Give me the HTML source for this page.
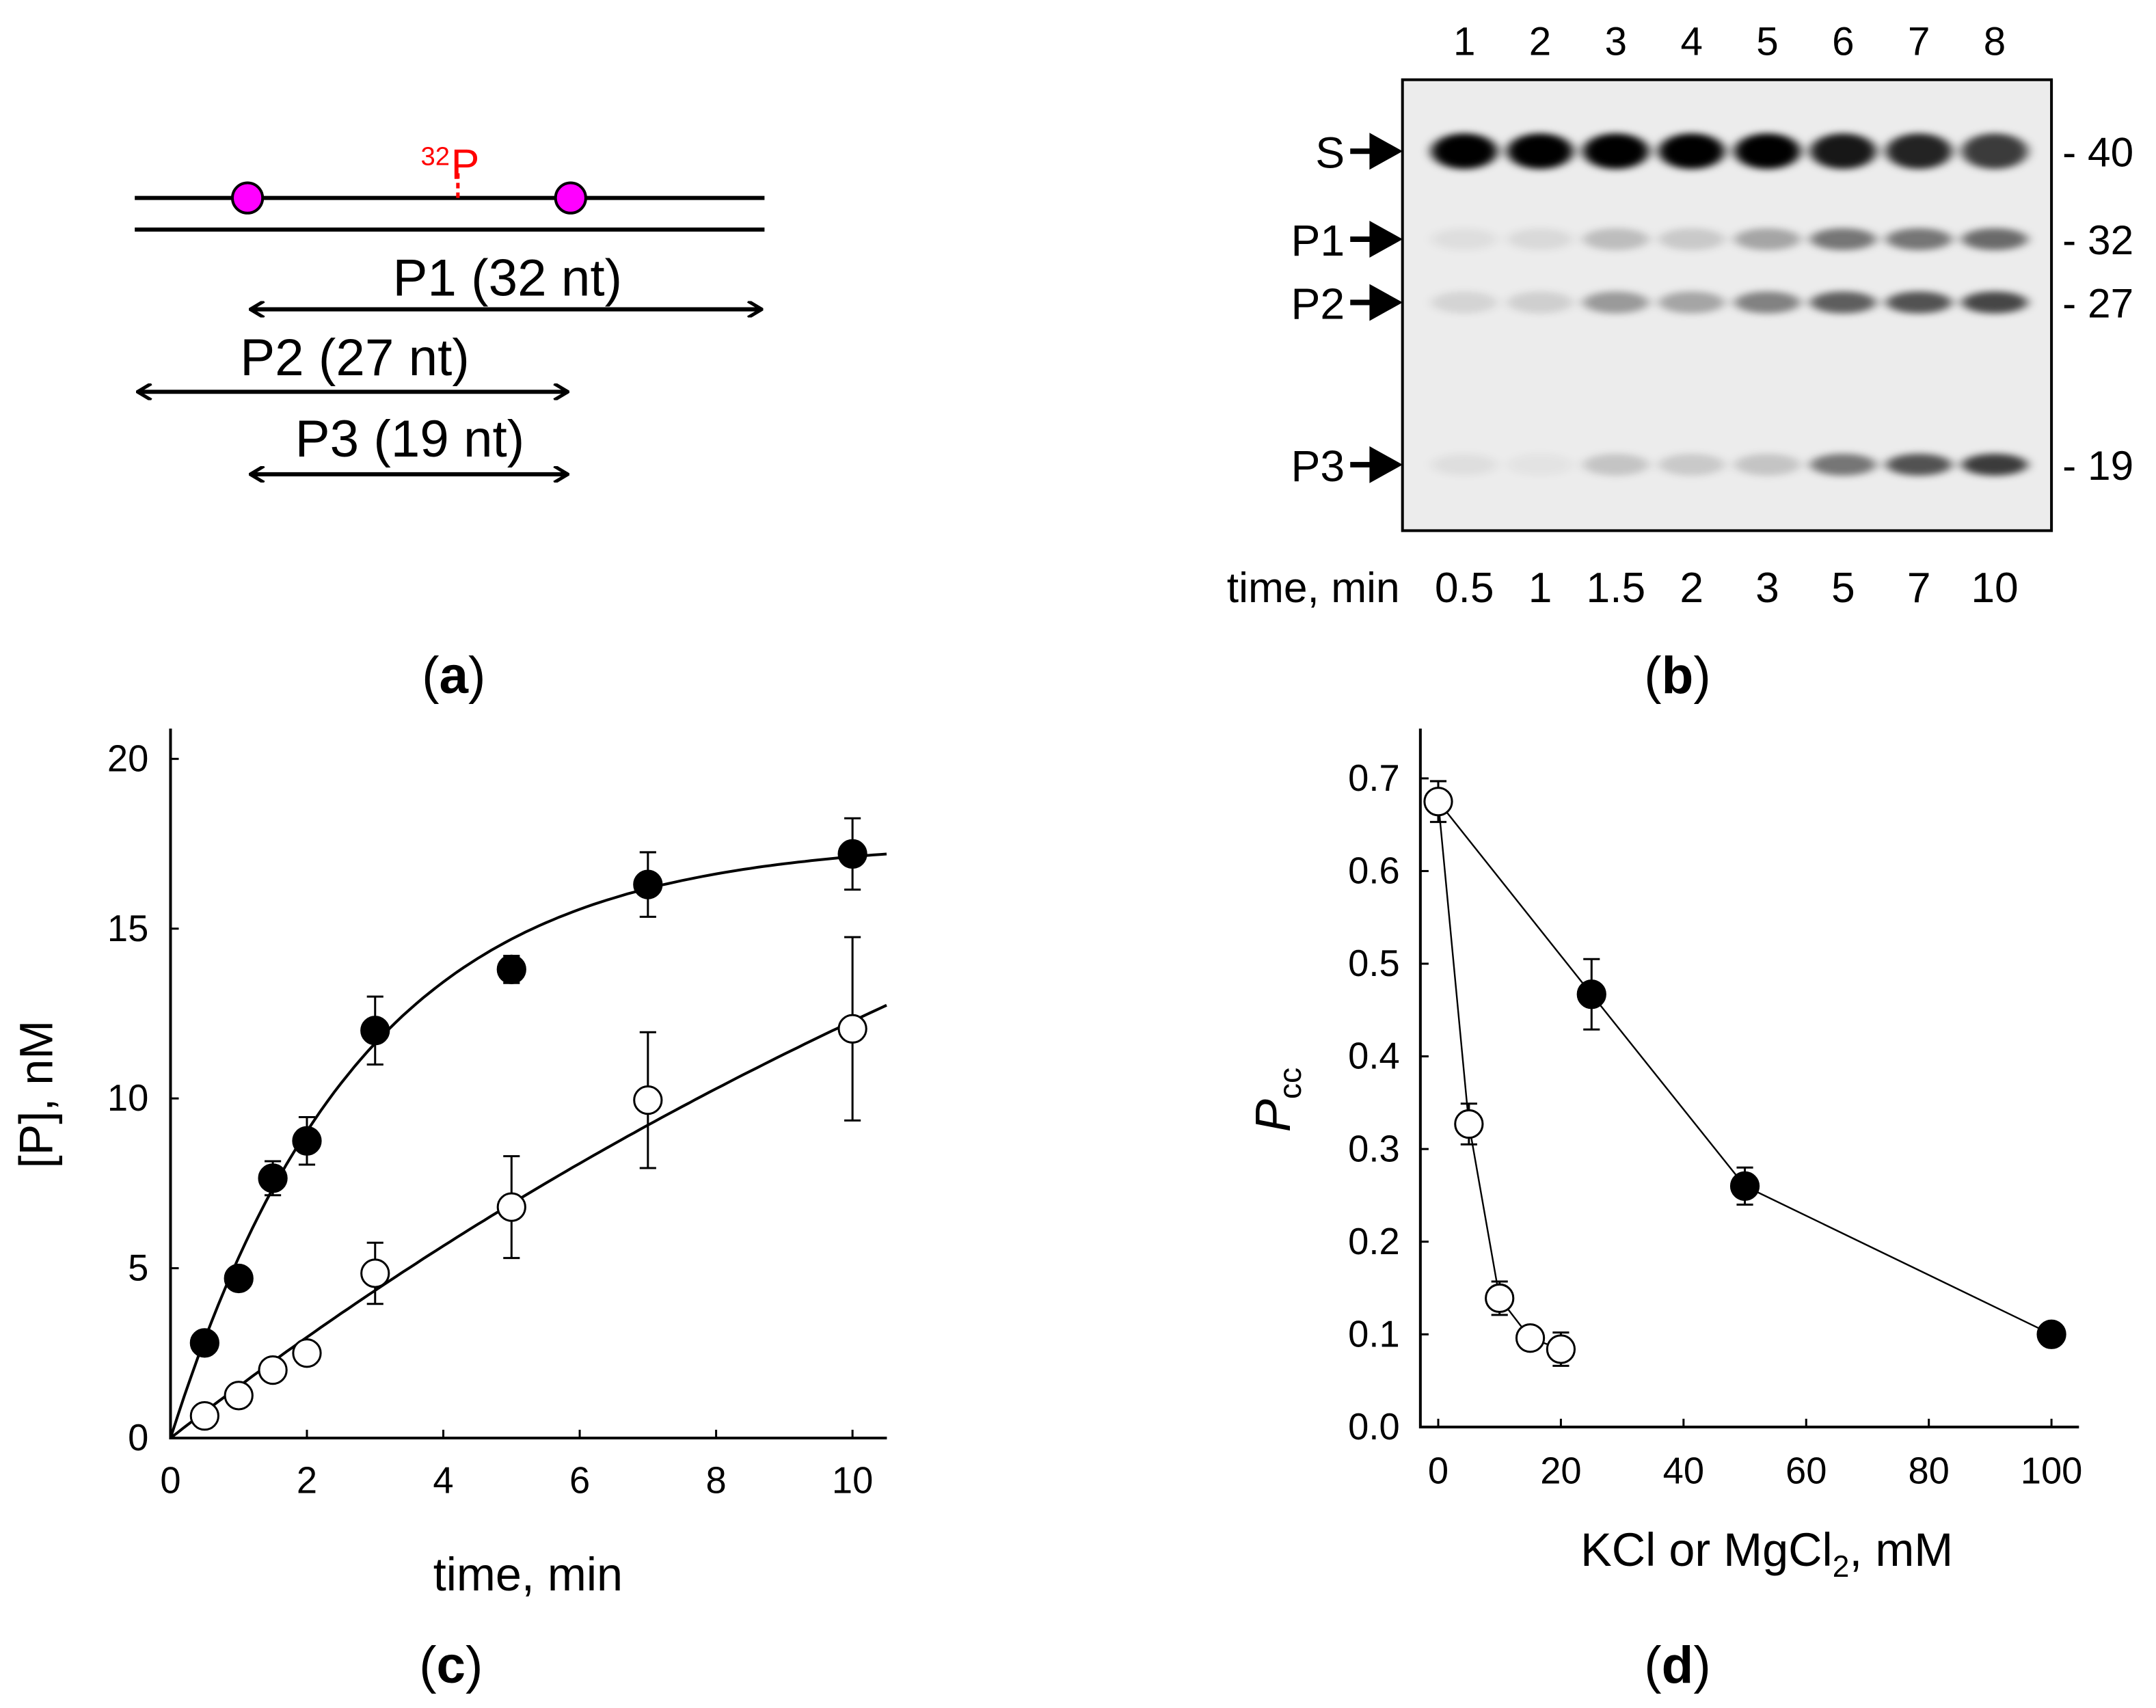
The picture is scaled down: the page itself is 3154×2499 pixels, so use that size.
<!DOCTYPE html>
<html><head><meta charset="utf-8"><style>html,body{margin:0;padding:0;background:#fff}svg{display:block}text{font-family:"Liberation Sans",Arial,sans-serif}</style></head>
<body>
<svg id="fig" xmlns="http://www.w3.org/2000/svg" width="3154" height="2499" viewBox="0 0 1568 1242.4">
<defs>
<filter id="blur" x="-50%" y="-200%" width="200%" height="500%"><feGaussianBlur stdDeviation="4 2.5"/></filter>
<marker id="ah" markerWidth="12" markerHeight="12" refX="11" refY="6" orient="auto-start-reverse" markerUnits="userSpaceOnUse"><path d="M1,0 L11,6 L1,12" fill="none" stroke="#000" stroke-width="2.5"/></marker>
</defs>
<g id="panel-a">
<line x1="98" y1="144" x2="556" y2="144" stroke="#000" stroke-width="3"/>
<line x1="98" y1="167" x2="556" y2="167" stroke="#000" stroke-width="3"/>
<line x1="333" y1="144" x2="333" y2="126" stroke="#f00" stroke-width="2.5" stroke-dasharray="4 3"/>
<text x="306" y="120" fill="#f00" font-size="19">32</text>
<text x="328" y="130" fill="#f00" font-size="31">P</text>
<circle cx="180" cy="144" r="11" fill="#f0f" stroke="#000" stroke-width="2"/>
<circle cx="415" cy="144" r="11" fill="#f0f" stroke="#000" stroke-width="2"/>
<line x1="182" y1="225" x2="554" y2="225" stroke="#000" stroke-width="3" marker-start="url(#ah)" marker-end="url(#ah)"/>
<text x="369" y="215" font-size="38" text-anchor="middle">P1 (32 nt)</text>
<line x1="100" y1="285" x2="413" y2="285" stroke="#000" stroke-width="3" marker-start="url(#ah)" marker-end="url(#ah)"/>
<text x="258" y="273" font-size="38" text-anchor="middle">P2 (27 nt)</text>
<line x1="182" y1="345" x2="413" y2="345" stroke="#000" stroke-width="3" marker-start="url(#ah)" marker-end="url(#ah)"/>
<text x="298" y="332" font-size="38" text-anchor="middle">P3 (19 nt)</text>
</g>
<g id="panel-b">
<rect x="1020" y="58" width="472" height="328" fill="#ececec" stroke="#000" stroke-width="2"/>
<g id="bands" filter="url(#blur)"></g>
<g id="gel-labels"></g>
</g>
<g id="panel-c"></g>
<g id="panel-d"></g>
<g font-family="Liberation Serif,serif" font-size="38" text-anchor="middle">
<text x="330" y="504">(<tspan font-weight="bold">a</tspan>)</text>
<text x="1220" y="504">(<tspan font-weight="bold">b</tspan>)</text>
<text x="328" y="1224">(<tspan font-weight="bold">c</tspan>)</text>
<text x="1220" y="1224">(<tspan font-weight="bold">d</tspan>)</text>
</g>
</svg>
<script>
const NS="http://www.w3.org/2000/svg";
function mk(parent,tag,attrs,txt){const e=document.createElementNS(NS,tag);for(const k in attrs)e.setAttribute(k,attrs[k]);if(txt!==undefined)e.textContent=txt;parent.appendChild(e);return e;}

// ---- Gel data ----
const laneNums=["1","2","3","4","5","6","7","8"];
const laneTimes=["0.5","1","1.5","2","3","5","7","10"];
const bandS=[1.0,1.0,1.0,1.0,1.0,0.9,0.85,0.75];
const bandP1=[0.06,0.08,0.2,0.15,0.3,0.5,0.5,0.55];
const bandP2=[0.1,0.12,0.35,0.3,0.45,0.6,0.65,0.7];
const bandP3=[0.06,0.04,0.17,0.15,0.17,0.5,0.65,0.75];
const bandNames=["S","P1","P2","P3"];
const bandSizes=["40","32","27","19"];
const bandY=[110,174,220,338];
const bands=document.getElementById('bands'), gl=document.getElementById('gel-labels');
const laneX=i=>1065+i*55.1;
[bandS,bandP1,bandP2,bandP3].forEach((arr,b)=>{arr.forEach((v,i)=>{
  const e=mk(bands,'ellipse',{cx:laneX(i),cy:bandY[b],rx:24,ry:b==0?13:8,fill:'#000','fill-opacity':v});
  
  
});});
laneNums.forEach((n,i)=>{
  const t=mk(gl,'text',{x:laneX(i),y:40,'font-size':29,'text-anchor':'middle'},n);
  
  
  const u=mk(gl,'text',{x:laneX(i),y:438,'font-size':31,'text-anchor':'middle'},laneTimes[i]);
  
  
});
{const t=mk(gl,'text',{x:1018,y:438,'font-size':31,'text-anchor':'end'},'time, min');

}
bandNames.forEach((n,b)=>{
  const t=mk(gl,'text',{x:978,y:bandY[b]+12,'font-size':32,'text-anchor':'end'},n);
  
  
  const a=mk(gl,'path',{d:`M982,${bandY[b]} L1000,${bandY[b]} M998,${bandY[b]-10} L1016,${bandY[b]} L998,${bandY[b]+10} Z`,stroke:'#000','stroke-width':4,fill:'#000'});
  
  
  const s=mk(gl,'text',{x:1500,y:bandY[b]+11,'font-size':30},'- '+bandSizes[b]);
  
  
});

// ---- Panel c data ----
const cTime=[0.5,1,1.5,2,3,5,7,10];
const cFilled=[2.8,4.7,7.65,8.75,12.0,13.8,16.3,17.2];
const cFilledErr=[0,0,0.5,0.7,1.0,0.4,0.95,1.05];
const cOpen=[0.65,1.25,2.0,2.5,4.85,6.8,9.95,12.05];
const cOpenErr=[0,0,0,0,0.9,1.5,2.0,2.7];
const cFitFilled=[17.6,0.36];
const cFitOpen=[31.2,0.05];
const cXTicks=[0,2,4,6,8,10];
const cYTicks=[0,5,10,15,20];
(function(){
 const g=document.getElementById('panel-c');
 const X=v=>124+v*49.6, Y=v=>1046-v*24.7;
 let a=mk(g,'path',{d:`M124,530 L124,1046 L645,1046`,fill:'none',stroke:'#000','stroke-width':2});
 
 
 cXTicks.forEach(v=>{mk(g,'line',{x1:X(v),y1:1046,x2:X(v),y2:1040,stroke:'#000','stroke-width':1.5});
  const t=mk(g,'text',{x:X(v),y:1086,'font-size':27,'text-anchor':'middle'},v);
  
  });
 cYTicks.forEach(v=>{mk(g,'line',{x1:124,y1:Y(v),x2:130,y2:Y(v),stroke:'#000','stroke-width':1.5});
  const t=mk(g,'text',{x:108,y:Y(v)+9,'font-size':27,'text-anchor':'end'},v);
  
  });
 let t=mk(g,'text',{x:384,y:1157,'font-size':34,'text-anchor':'middle'},'time, min');
 
 
 t=mk(g,'text',{x:38,y:796,'font-size':34,'text-anchor':'middle',transform:'rotate(-90 38 796)'},'[P], nM');
 
 
 [[cFitFilled,'fit-curve-filled'],[cFitOpen,'fit-curve-open']].forEach(([p,n])=>{
  let d='';for(let i=0;i<=105;i++){const x=i/10;d+=(i?'L':'M')+X(x).toFixed(1)+','+Y(p[0]*(1-Math.exp(-p[1]*x))).toFixed(1);}
  const c=mk(g,'path',{d,fill:'none',stroke:'#000','stroke-width':2});
  
  
 });
 [[cOpen,cOpenErr,'#fff','point-open'],[cFilled,cFilledErr,'#000','point-filled']].forEach(([vals,errs,fill,n])=>{
  vals.forEach((v,i)=>{const x=X(cTime[i]);
   if(errs[i]>0){const e=mk(g,'path',{d:`M${x},${Y(v+errs[i])}V${Y(v-errs[i])}M${x-6},${Y(v+errs[i])}h12M${x-6},${Y(v-errs[i])}h12`,stroke:'#000','stroke-width':1.5,fill:'none'});
    
    }
   const c=mk(g,'circle',{cx:x,cy:Y(v),r:10,fill,stroke:'#000','stroke-width':1.5});
   
   
  });
 });
})();

// ---- Panel d data ----
const dOpenX=[0,5,10,15,20];
const dOpenY=[0.675,0.327,0.139,0.096,0.084];
const dOpenErr=[0.022,0.022,0.018,0,0.018];
const dFilledX=[25,50,100];
const dFilledY=[0.467,0.26,0.1];
const dFilledErr=[0.038,0.02,0];
const dXTicks=[0,20,40,60,80,100];
const dYTicks=[0,0.1,0.2,0.3,0.4,0.5,0.6,0.7];
(function(){
 const g=document.getElementById('panel-d');
 const X=v=>1046+v*4.46, Y=v=>1038-v*674;
 let a=mk(g,'path',{d:`M1033,530 L1033,1038 L1512,1038`,fill:'none',stroke:'#000','stroke-width':2});
 
 
 dXTicks.forEach(v=>{mk(g,'line',{x1:X(v),y1:1038,x2:X(v),y2:1032,stroke:'#000','stroke-width':1.5});
  const t=mk(g,'text',{x:X(v),y:1079,'font-size':27,'text-anchor':'middle'},v);
  
  });
 dYTicks.forEach(v=>{mk(g,'line',{x1:1033,y1:Y(v),x2:1039,y2:Y(v),stroke:'#000','stroke-width':1.5});
  const t=mk(g,'text',{x:1018,y:Y(v)+9,'font-size':27,'text-anchor':'end'},v.toFixed(1));
  
  });
 let t=mk(g,'text',{x:1285,y:1139,'font-size':34,'text-anchor':'middle'});
 t.innerHTML='KCl or MgCl<tspan font-size="22" dy="8">2</tspan><tspan dy="-8">, mM</tspan>';
 
 
 t=mk(g,'text',{x:938,y:800,'font-size':36,'text-anchor':'middle',transform:'rotate(-90 938 800)','font-style':'italic'});
 t.innerHTML='P<tspan font-style="normal" font-size="23" dy="8">cc</tspan>';
 
 
 const lx=[dOpenX[0]].concat(dFilledX), ly=[dOpenY[0]].concat(dFilledY);
 [[dOpenX,dOpenY,'line-mgcl2'],[lx,ly,'line-kcl']].forEach(([xs,ys,n])=>{
  const l=mk(g,'polyline',{points:xs.map((x,i)=>X(x)+','+Y(ys[i])).join(' '),fill:'none',stroke:'#000','stroke-width':1.2});
  
  
 });
 [[dOpenX,dOpenY,dOpenErr,'#fff','point-mgcl2'],[dFilledX,dFilledY,dFilledErr,'#000','point-kcl']].forEach(([xs,vals,errs,fill,n])=>{
  vals.forEach((v,i)=>{const x=X(xs[i]);
   if(errs[i]>0){const e=mk(g,'path',{d:`M${x},${Y(v+errs[i])}V${Y(v-errs[i])}M${x-6},${Y(v+errs[i])}h12M${x-6},${Y(v-errs[i])}h12`,stroke:'#000','stroke-width':1.5,fill:'none'});
    
    }
   const c=mk(g,'circle',{cx:x,cy:Y(v),r:10,fill,stroke:'#000','stroke-width':1.5});
   
   
  });
 });
})();
</script>
</body></html>
